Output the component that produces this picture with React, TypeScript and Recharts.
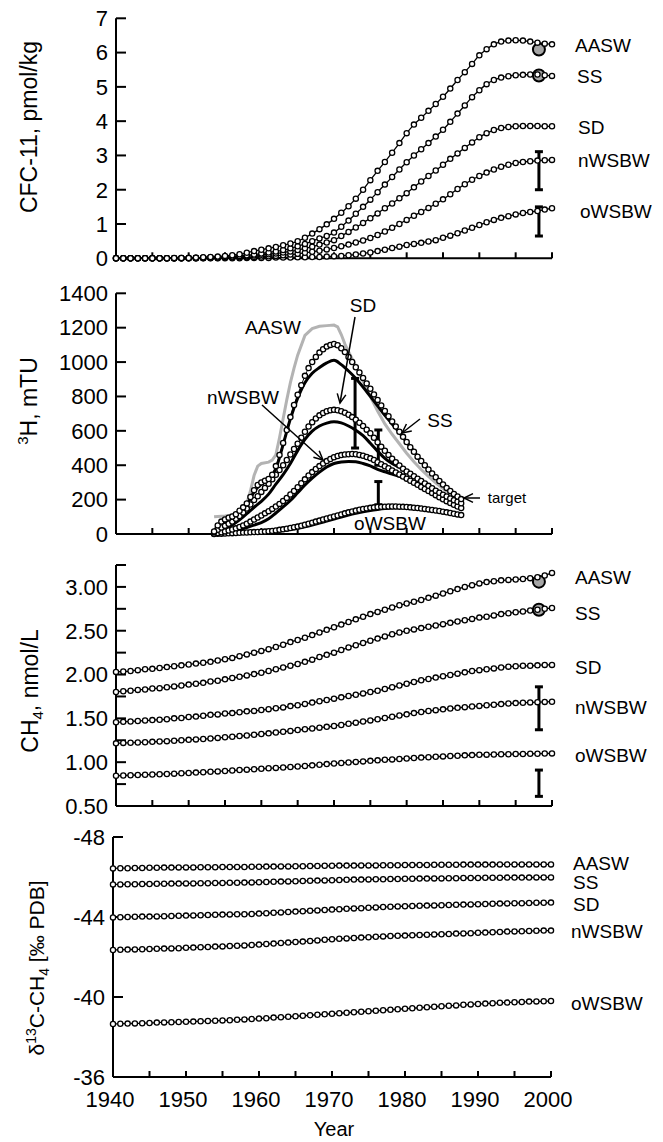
import React from "react";
import { ComposedChart, Line, Scatter, ErrorBar, XAxis, YAxis } from "recharts";

// ---- shared x grid ----
const years = [
  1940, 1941, 1942, 1943, 1944, 1945, 1946, 1947, 1948, 1949,
  1950, 1951, 1952, 1953, 1954, 1955, 1956, 1957, 1958, 1959,
  1960, 1961, 1962, 1963, 1964, 1965, 1966, 1967, 1968, 1969,
  1970, 1971, 1972, 1973, 1974, 1975, 1976, 1977, 1978, 1979,
  1980, 1981, 1982, 1983, 1984, 1985, 1986, 1987, 1988, 1989,
  1990, 1991, 1992, 1993, 1994, 1995, 1996, 1997, 1998, 1999,
  2000,
];
const xTicks = [1940, 1945, 1950, 1955, 1960, 1965, 1970, 1975, 1980, 1985, 1990, 1995, 2000];

// ---- CFC-11, pmol/kg ----
const cfcAASW = [
  0, 0, 0, 0, 0, 0, 0, 0,
  0.01, 0.01, 0.01, 0.02, 0.03, 0.04, 0.05, 0.07, 0.09, 0.12,
  0.16, 0.21, 0.25, 0.29, 0.33, 0.38, 0.43, 0.5, 0.6, 0.72,
  0.85, 0.99, 1.15, 1.33, 1.52, 1.74, 2.0, 2.28, 2.55, 2.81,
  3.08, 3.36, 3.65, 3.9, 4.1, 4.3, 4.5, 4.71, 4.95, 5.2,
  5.43, 5.67, 5.92, 6.1, 6.24, 6.32, 6.35, 6.36, 6.35, 6.32,
  6.29, 6.26, 6.24,
];
const cfcSS = [
  0, 0, 0, 0, 0, 0, 0, 0, 0,
  0.01, 0.01, 0.01, 0.02, 0.02, 0.03, 0.04, 0.05, 0.07,
  0.09, 0.11, 0.14, 0.17, 0.2, 0.24, 0.29, 0.35, 0.42, 0.5,
  0.58, 0.65, 0.75, 0.92, 1.1, 1.3, 1.5, 1.71, 1.93, 2.15,
  2.37, 2.59, 2.8, 3.0, 3.18, 3.36, 3.55, 3.75, 3.98, 4.22,
  4.46, 4.7, 4.9, 5.08, 5.2, 5.27, 5.31, 5.34, 5.35, 5.36,
  5.36, 5.34, 5.32,
];
const cfcSD = [
  0, 0, 0, 0, 0, 0, 0, 0, 0, 0,
  0.01, 0.01, 0.01, 0.02, 0.02, 0.03, 0.04, 0.05, 0.06, 0.08,
  0.1, 0.12, 0.14, 0.17, 0.2, 0.24, 0.29, 0.34, 0.4, 0.46,
  0.53, 0.65, 0.77, 0.9, 1.03, 1.17, 1.31, 1.46, 1.6, 1.75,
  1.9, 2.07, 2.24, 2.4, 2.56, 2.73, 2.9, 3.06, 3.22, 3.38,
  3.53, 3.65, 3.74, 3.8, 3.83, 3.85, 3.86, 3.86, 3.86, 3.85,
  3.85,
];
const cfcNW = [
  0, 0, 0, 0, 0, 0, 0, 0, 0, 0, 0, 0,
  0.01, 0.01, 0.01, 0.02, 0.02, 0.03, 0.03, 0.04, 0.05, 0.06,
  0.07, 0.09, 0.11, 0.13, 0.16, 0.19, 0.22, 0.26, 0.3, 0.35,
  0.4, 0.46, 0.52, 0.59, 0.68, 0.78, 0.89, 1.0, 1.12, 1.24,
  1.35, 1.47, 1.59, 1.72, 1.87, 2.02, 2.16, 2.29, 2.4, 2.5,
  2.59, 2.67, 2.73, 2.78, 2.81, 2.83, 2.85, 2.86, 2.87,
];
const cfcOW = [
  0, 0, 0, 0, 0, 0, 0, 0, 0, 0, 0, 0, 0, 0, 0, 0, 0, 0,
  0.01, 0.01, 0.01, 0.01, 0.02, 0.02, 0.02, 0.03, 0.03, 0.04,
  0.04, 0.05, 0.06, 0.07, 0.09, 0.11, 0.14, 0.17, 0.21, 0.25,
  0.3, 0.34, 0.39, 0.42, 0.45, 0.49, 0.53, 0.6, 0.66, 0.73,
  0.81, 0.89, 0.97, 1.05, 1.12, 1.18, 1.23, 1.28, 1.32, 1.35,
  1.38, 1.42, 1.46,
];
const cfcMarkX = [1998.2, 1998.2];
const cfcMarkY = [6.09, 5.33];
const cfcBarX = [1998.2, 1998.2];
const cfcBarLo = [2.0, 0.65];
const cfcBarHi = [3.11, 1.5];

// ---- 3H, mTU ----
const h3X = [
  1953.5, 1954, 1954.5, 1955, 1955.5, 1956, 1956.5, 1957, 1957.5, 1958,
  1958.5, 1959, 1959.5, 1960, 1960.5, 1961, 1961.5, 1962, 1962.5, 1963,
  1963.5, 1964, 1964.5, 1965, 1965.5, 1966, 1966.5, 1967, 1967.5, 1968,
  1968.5, 1969, 1969.5, 1970, 1970.5, 1971, 1971.5, 1972, 1972.5, 1973,
  1973.5, 1974, 1974.5, 1975, 1975.5, 1976, 1976.5, 1977, 1977.5, 1978,
  1978.5, 1979, 1979.5, 1980, 1980.5, 1981, 1981.5, 1982, 1982.5, 1983,
  1983.5, 1984, 1984.5, 1985, 1985.5, 1986, 1986.5, 1987, 1987.5,
];
const h3SS = [
  15, 50, 72, 85, 95, 102, 115, 135, 155, 178,
  215, 255, 285, 300, 310, 320, 345, 395, 460, 530,
  605, 680, 750, 810, 865, 920, 965, 1000, 1030, 1055,
  1075, 1090, 1100, 1105, 1098, 1080, 1058, 1030, 1000, 970,
  940, 908, 876, 845, 812, 780, 748, 716, 685, 655,
  625, 595, 565, 535, 505, 478, 450, 425, 400, 375,
  352, 330, 308, 288, 268, 250, 233, 218, 203,
];
const h3SD = [
  10, 25, 38, 48, 60, 72, 88, 105, 125, 148,
  172, 198, 220, 245, 268, 292, 318, 345, 372, 400,
  430, 462, 494, 525, 560, 595, 625, 650, 672, 690,
  704, 714, 720, 722, 720, 714, 705, 694, 680, 665,
  647, 628, 607, 586, 560, 534, 508, 484, 460, 438,
  417, 398, 380, 364, 350, 336, 322, 308, 294, 280,
  266, 252, 240, 229, 218, 207, 197, 188, 179,
];
const h3NW = [
  2, 6, 10, 15, 20, 26, 33, 41, 50, 60,
  72, 84, 96, 108, 120, 133, 146, 160, 175, 192,
  210, 230, 250, 272, 295, 318, 340, 360, 378, 395,
  410, 424, 436, 446, 454, 459, 462, 464, 465, 464,
  460, 455, 448, 440, 430, 418, 406, 394, 382, 370,
  358, 346, 334, 322, 310, 298, 286, 274, 262, 250,
  238, 226, 214, 202, 191, 180, 170, 160, 151,
];
const h3OW = [
  0, 1, 2, 3, 4, 5, 6, 7, 8, 9,
  10, 11, 12, 13, 14, 16, 18, 21, 24, 27,
  31, 35, 39, 43, 48, 54, 60, 66, 72, 78,
  84, 90, 96, 102, 108, 114, 120, 126, 131, 136,
  141, 145, 149, 152, 155, 157, 158, 159, 160, 160,
  160, 159, 158, 157, 155, 153, 151, 148, 146, 143,
  140, 137, 134, 130, 126, 122, 118, 114, 110,
];
// solid model lines
const h3LineX = [
  1953.5, 1954, 1955, 1956, 1957, 1958, 1959, 1960, 1961, 1962,
  1963, 1964, 1965, 1966, 1967, 1968, 1969, 1970, 1971, 1972,
  1973, 1974, 1975, 1976, 1977, 1978, 1979, 1980, 1981, 1982,
  1983, 1984, 1985, 1986, 1987, 1987.5,
];
const h3LineSS = [
  20, 45, 72, 95, 125, 170, 245, 290, 312, 380,
  520, 670, 790, 880, 935, 968, 995, 1010, 985, 948,
  905, 855, 800, 745, 690, 640, 590, 535, 480, 425,
  375, 330, 288, 250, 218, 203,
];
const h3LineSD = [
  5, 12, 30, 52, 82, 118, 155, 190, 232, 290,
  345, 410, 485, 550, 598, 628, 645, 653, 646, 628,
  604, 572, 528, 482, 440, 410, 388, 362, 336, 308,
  280, 252, 229, 207, 188, 179,
];
const h3LineNW = [
  0, 2, 7, 14, 25, 38, 52, 66, 88, 122,
  158, 195, 240, 285, 325, 360, 390, 410, 419, 422,
  420, 410, 396, 376, 362, 348, 335, 320, 298, 274,
  250, 226, 202, 180, 160, 151,
];
const h3LineOW = [
  0, 0, 1, 2, 3, 4, 6, 8, 11, 15,
  20, 26, 33, 42, 52, 63, 75, 87, 99, 110,
  120, 129, 137, 143, 148, 151, 152, 152, 150, 147,
  142, 136, 129, 121, 113, 108,
];
// AASW (grey)
const h3GreyX = [
  1953.5, 1954, 1955, 1956, 1957, 1958, 1958.5, 1959, 1959.5, 1960,
  1961, 1961.5, 1962, 1962.5, 1963, 1963.5, 1964, 1964.5, 1965, 1966,
  1967, 1968, 1969, 1970, 1970.5, 1971, 1971.5, 1972, 1973, 1974,
  1975, 1976, 1977, 1978, 1979, 1980, 1981, 1982, 1983, 1984,
  1985, 1986, 1987,
];
const h3Grey = [
  100, 102, 105, 110, 130, 178, 250, 340, 395, 410,
  418, 430, 460, 560, 670, 780, 880, 965, 1040, 1155,
  1195, 1208, 1212, 1215, 1205, 1160, 1105, 1060, 978, 890,
  800, 715, 640, 580, 525, 470, 420, 375, 335, 298,
  265, 235, 205,
];
const h3BarX = [1972.9, 1976.1, 1976.1];
const h3BarLo = [500, 400, 170];
const h3BarHi = [905, 605, 305];

// ---- CH4, nmol/L ----
const ch4AASW = [
  2.03, 2.035, 2.04, 2.05, 2.06, 2.065, 2.075, 2.085, 2.095, 2.105,
  2.115, 2.125, 2.135, 2.145, 2.16, 2.175, 2.19, 2.21, 2.23, 2.25,
  2.27, 2.29, 2.315, 2.34, 2.37, 2.395, 2.42, 2.45, 2.48, 2.51,
  2.54, 2.57, 2.6, 2.63, 2.66, 2.69, 2.715, 2.74, 2.765, 2.79,
  2.81, 2.83, 2.85, 2.875, 2.9, 2.925, 2.95, 2.975, 3.0, 3.02,
  3.04, 3.055, 3.065, 3.075, 3.08, 3.085, 3.09, 3.1, 3.11, 3.13,
  3.16,
];
const ch4SS = [
  1.8, 1.81, 1.815, 1.825, 1.83, 1.84, 1.845, 1.855, 1.865, 1.875,
  1.885, 1.895, 1.905, 1.92, 1.93, 1.945, 1.96, 1.975, 1.99, 2.005,
  2.02, 2.04, 2.06, 2.08, 2.1, 2.12, 2.145, 2.17, 2.2, 2.225,
  2.25, 2.28, 2.31, 2.335, 2.36, 2.385, 2.41, 2.435, 2.46, 2.48,
  2.5, 2.515, 2.53, 2.545, 2.56, 2.575, 2.59, 2.605, 2.62, 2.635,
  2.65, 2.66, 2.675, 2.69, 2.7, 2.71, 2.72, 2.73, 2.74, 2.75,
  2.76,
];
const ch4SD = [
  1.455, 1.46, 1.465, 1.47, 1.475, 1.48, 1.485, 1.49, 1.5, 1.505,
  1.515, 1.52, 1.53, 1.54, 1.545, 1.555, 1.56, 1.57, 1.58, 1.585,
  1.595, 1.605, 1.615, 1.625, 1.64, 1.65, 1.665, 1.68, 1.695, 1.71,
  1.725, 1.74, 1.755, 1.77, 1.785, 1.8, 1.815, 1.835, 1.855, 1.875,
  1.895, 1.915, 1.935, 1.95, 1.965, 1.98, 1.995, 2.01, 2.025, 2.04,
  2.05, 2.06, 2.07, 2.08, 2.09, 2.095, 2.1, 2.1, 2.105, 2.11,
  2.11,
];
const ch4NW = [
  1.215, 1.22, 1.222, 1.225, 1.228, 1.232, 1.236, 1.24, 1.245, 1.25,
  1.255, 1.26, 1.265, 1.27, 1.277, 1.284, 1.291, 1.298, 1.305, 1.313,
  1.321, 1.329, 1.338, 1.347, 1.357, 1.367, 1.376, 1.385, 1.394, 1.403,
  1.413, 1.425, 1.438, 1.451, 1.464, 1.477, 1.49, 1.504, 1.518, 1.532,
  1.546, 1.56, 1.573, 1.584, 1.594, 1.603, 1.612, 1.62, 1.628, 1.635,
  1.642, 1.649, 1.656, 1.663, 1.669, 1.674, 1.678, 1.682, 1.685, 1.688,
  1.69,
];
const ch4OW = [
  0.845, 0.848, 0.851, 0.854, 0.857, 0.86, 0.863, 0.866, 0.869, 0.873,
  0.877, 0.881, 0.885, 0.89, 0.895, 0.9, 0.905, 0.91, 0.915, 0.92,
  0.925, 0.93, 0.935, 0.94, 0.945, 0.95, 0.957, 0.964, 0.971, 0.978,
  0.985, 0.991, 0.997, 1.003, 1.009, 1.015, 1.021, 1.027, 1.032, 1.037,
  1.042, 1.047, 1.052, 1.057, 1.062, 1.066, 1.07, 1.074, 1.078, 1.081,
  1.084, 1.086, 1.088, 1.09, 1.091, 1.093, 1.094, 1.096, 1.097, 1.099,
  1.1,
];
const ch4MarkX = [1998.2, 1998.2];
const ch4MarkY = [3.06, 2.74];
const ch4BarX = [1998.2, 1998.2];
const ch4BarLo = [1.37, 0.61];
const ch4BarHi = [1.86, 0.91];

// ---- d13C-CH4, permil PDB ----
const d13AASW = [
  -46.43, -46.44, -46.44, -46.45, -46.45, -46.46, -46.46, -46.47, -46.47, -46.48,
  -46.48, -46.48, -46.49, -46.49, -46.49, -46.5, -46.5, -46.5, -46.5, -46.51,
  -46.51, -46.52, -46.52, -46.53, -46.53, -46.54, -46.54, -46.55, -46.55, -46.56,
  -46.56, -46.57, -46.57, -46.57, -46.58, -46.58, -46.58, -46.59, -46.59, -46.59,
  -46.6, -46.6, -46.6, -46.6, -46.61, -46.61, -46.61, -46.61, -46.62, -46.62,
  -46.62, -46.62, -46.62, -46.63, -46.63, -46.63, -46.63, -46.63, -46.63, -46.63,
  -46.63,
];
const d13SS = [
  -45.63, -45.63, -45.64, -45.64, -45.65, -45.65, -45.66, -45.66, -45.67, -45.67,
  -45.68, -45.68, -45.69, -45.69, -45.7, -45.7, -45.71, -45.71, -45.72, -45.73,
  -45.74, -45.75, -45.76, -45.77, -45.78, -45.79, -45.8, -45.81, -45.82, -45.83,
  -45.84, -45.85, -45.86, -45.87, -45.87, -45.88, -45.89, -45.89, -45.9, -45.9,
  -45.91, -45.91, -45.92, -45.92, -45.93, -45.93, -45.94, -45.94, -45.95, -45.95,
  -45.95, -45.96, -45.96, -45.96, -45.97, -45.97, -45.97, -45.97, -45.98, -45.98,
  -45.98,
];
const d13SD = [
  -43.98, -43.99, -44.0, -44.01, -44.02, -44.02, -44.03, -44.04, -44.05, -44.06,
  -44.07, -44.08, -44.09, -44.1, -44.11, -44.12, -44.13, -44.14, -44.14, -44.15,
  -44.17, -44.19, -44.21, -44.23, -44.25, -44.27, -44.29, -44.31, -44.33, -44.35,
  -44.37, -44.39, -44.41, -44.43, -44.44, -44.46, -44.48, -44.5, -44.51, -44.53,
  -44.54, -44.55, -44.56, -44.57, -44.58, -44.59, -44.6, -44.61, -44.62, -44.63,
  -44.64, -44.65, -44.66, -44.67, -44.68, -44.69, -44.69, -44.7, -44.71, -44.71,
  -44.72,
];
const d13NW = [
  -42.35, -42.36, -42.37, -42.38, -42.39, -42.4, -42.41, -42.42, -42.43, -42.44,
  -42.46, -42.47, -42.49, -42.5, -42.52, -42.53, -42.55, -42.56, -42.58, -42.6,
  -42.62, -42.65, -42.67, -42.7, -42.72, -42.75, -42.77, -42.8, -42.83, -42.86,
  -42.89, -42.91, -42.93, -42.95, -42.97, -42.99, -43.01, -43.03, -43.05, -43.06,
  -43.07, -43.09, -43.1, -43.11, -43.13, -43.14, -43.15, -43.17, -43.18, -43.19,
  -43.21, -43.22, -43.24, -43.25, -43.27, -43.28, -43.29, -43.3, -43.31, -43.32,
  -43.32,
];
const d13OW = [
  -38.65, -38.66, -38.67, -38.68, -38.69, -38.7, -38.72, -38.73, -38.74, -38.75,
  -38.76, -38.77, -38.79, -38.8, -38.81, -38.83, -38.84, -38.86, -38.88, -38.9,
  -38.92, -38.94, -38.97, -38.99, -39.01, -39.04, -39.06, -39.09, -39.11, -39.14,
  -39.16, -39.19, -39.21, -39.24, -39.26, -39.29, -39.31, -39.34, -39.36, -39.39,
  -39.41, -39.44, -39.46, -39.49, -39.51, -39.54, -39.56, -39.58, -39.61, -39.63,
  -39.65, -39.67, -39.69, -39.71, -39.72, -39.74, -39.75, -39.77, -39.78, -39.79,
  -39.8,
];

// ---- tick values ----
const cfcTicks = [0, 1, 2, 3, 4, 5, 6, 7];
const h3Ticks = [0, 200, 400, 600, 800, 1000, 1200, 1400];
const ch4Ticks = [0.5, 0.75, 1, 1.25, 1.5, 1.75, 2, 2.25, 2.5, 2.75, 3, 3.25];
const d13Ticks = [-48, -44, -40, -36];

const W = 663;
const H = 1142;
const FONT = '"Liberation Sans", Arial, Helvetica, sans-serif';
const AXIS = { stroke: "#000", strokeWidth: 2 };

const rows = (xs: number[], ys: number[]) => xs.map((x, i) => ({ x, y: ys[i] }));
const bars = (xs: number[], lo: number[], hi: number[]) =>
  xs.map((x, i) => ({ x, y: lo[i], err: [0, hi[i] - lo[i]] }));

type Frame = {
  top: number;
  height: number;
  plotTop: number;
  plotH: number;
  left: number;
  right: number;
  xAxisH: number;
};

const Y_W = 60;
const margins = (f: Frame) => ({
  top: f.plotTop - f.top,
  left: f.left - Y_W,
  right: W - f.right,
  bottom: f.top + f.height - f.plotTop - f.plotH - f.xAxisH,
});

function Panel({
  frame,
  yDomain,
  yTicks,
  yFormat,
  reversed,
  xFormat,
  children,
}: {
  frame: Frame;
  yDomain: [number, number];
  yTicks: number[];
  yFormat?: (v: number) => string;
  reversed?: boolean;
  xFormat: (v: number) => string;
  children: React.ReactNode;
}) {
  return (
    <div style={{ position: "absolute", left: 0, top: frame.top }}>
      <ComposedChart width={W} height={frame.height} margin={margins(frame)}>
        <XAxis
          type="number"
          dataKey="x"
          domain={[1940, 2000]}
          ticks={xTicks}
          interval={0}
          height={frame.xAxisH}
          axisLine={AXIS}
          tickLine={AXIS}
          tickSize={-6}
          tickMargin={20}
          tick={{ fill: "#000", fontSize: 22, fontFamily: FONT, dx: -3 }}
          tickFormatter={xFormat}
        />
        <YAxis
          type="number"
          domain={yDomain}
          ticks={yTicks}
          interval={0}
          width={Y_W}
          reversed={reversed}
          axisLine={AXIS}
          tickLine={AXIS}
          tickSize={-10}
          tickMargin={18}
          tick={{ fill: "#000", fontSize: 22, fontFamily: FONT }}
          tickFormatter={yFormat}
        />
        {children}
      </ComposedChart>
    </div>
  );
}

const noLabel = () => "";

function circles(key: string, xs: number[], ys: number[], r = 2.6, line = 1.3) {
  return (
    <Line
      key={key}
      data={rows(xs, ys)}
      dataKey="y"
      type="monotone"
      stroke="#000"
      strokeWidth={line}
      dot={{ r, fill: "#fff", stroke: "#000", strokeWidth: 1.3 }}
      activeDot={false}
      isAnimationActive={false}
    />
  );
}

function solid(key: string, xs: number[], ys: number[], color = "#000", type: "monotone" | "linear" = "monotone") {
  return (
    <Line
      key={key}
      data={rows(xs, ys)}
      dataKey="y"
      type={type}
      stroke={color}
      strokeWidth={3}
      dot={false}
      activeDot={false}
      isAnimationActive={false}
    />
  );
}

function greyMarks(xs: number[], ys: number[]) {
  return (
    <Scatter
      data={rows(xs, ys)}
      dataKey="y"
      isAnimationActive={false}
      shape={(p: any) => <circle cx={p.cx} cy={p.cy} r={6} fill="#a6a6a6" stroke="#000" strokeWidth={2} />}
    />
  );
}

function errorBars(xs: number[], lo: number[], hi: number[]) {
  return (
    <Scatter data={bars(xs, lo, hi)} dataKey="y" isAnimationActive={false} shape={() => <g />}>
      <ErrorBar dataKey="err" direction="y" width={4} stroke="#000" strokeWidth={3} />
    </Scatter>
  );
}

function Arrow({ x1, y1, x2, y2 }: { x1: number; y1: number; x2: number; y2: number }) {
  const a = Math.atan2(y2 - y1, x2 - x1);
  const L = 10;
  const s = 0.45;
  const p1 = `${x2 - L * Math.cos(a - s)},${y2 - L * Math.sin(a - s)}`;
  const p2 = `${x2 - L * Math.cos(a + s)},${y2 - L * Math.sin(a + s)}`;
  return (
    <g stroke="#000" strokeWidth={1.5} fill="none">
      <line x1={x1} y1={y1} x2={x2} y2={y2} />
      <polyline points={`${p1} ${x2},${y2} ${p2}`} />
    </g>
  );
}

const p1Labels: [string, number, number][] = [
  ["AASW", 575, 45], ["SS", 577, 76], ["SD", 578, 127], ["nWSBW", 578, 160], ["oWSBW", 580, 211],
];
const p3Labels: [string, number, number][] = [
  ["AASW", 575, 577], ["SS", 575, 613], ["SD", 575, 667], ["nWSBW", 575, 707], ["oWSBW", 575, 755],
];
const p4Labels: [string, number, number][] = [
  ["AASW", 573, 863], ["SS", 573, 882], ["SD", 573, 904], ["nWSBW", 571, 931], ["oWSBW", 571, 1003],
];

function Overlay() {
  const series = (list: [string, number, number][]) =>
    list.map(([t, x, y]) => (
      <text key={t + y} x={x} y={y + 7} fontSize={19}>
        {t}
      </text>
    ));
  return (
    <svg
      width={W}
      height={H}
      style={{ position: "absolute", left: 0, top: 0, pointerEvents: "none" }}
      fontFamily={FONT}
    >
      {/* axis titles */}
      <text transform="translate(37,127) rotate(-90)" textAnchor="middle" fontSize={23}>
        CFC-11, pmol/kg
      </text>
      <text transform="translate(37,401) rotate(-90)" textAnchor="middle" fontSize={23}>
        <tspan fontSize={15} dy={-9}>3</tspan>
        <tspan dy={9}>H, mTU</tspan>
      </text>
      <text transform="translate(38,691) rotate(-90)" textAnchor="middle" fontSize={23}>
        CH<tspan fontSize={15} dy={5}>4</tspan>
        <tspan dy={-5}>, nmol/L</tspan>
      </text>
      <text transform="translate(44,968) rotate(-90)" textAnchor="middle" fontSize={21}>
        δ<tspan fontSize={14} dy={-8}>13</tspan>
        <tspan dy={8}>C-CH</tspan>
        <tspan fontSize={14} dy={5}>4</tspan>
        <tspan dy={-5}> [‰ PDB]</tspan>
      </text>
      <text x={334} y={1136} textAnchor="middle" fontSize={20}>
        Year
      </text>

      {series(p1Labels)}
      {series(p3Labels)}
      {series(p4Labels)}

      {/* tritium annotations */}
      <g fontSize={19} textAnchor="middle">
        <text x={273} y={334}>AASW</text>
        <text x={363} y={312}>SD</text>
        <text x={243} y={404}>nWSBW</text>
        <text x={440} y={427}>SS</text>
        <text x={390} y={530}>oWSBW</text>
      </g>
      <text x={507} y={503} fontSize={15} textAnchor="middle">
        target
      </text>
      <Arrow x1={355} y1={317} x2={340} y2={403} />
      <Arrow x1={262} y1={405} x2={323} y2={460} />
      <Arrow x1={420} y1={419} x2={402} y2={433} />
      <Arrow x1={480} y1={498} x2={464} y2={498} />
    </svg>
  );
}

const f1: Frame = { top: 0, height: 278, plotTop: 18.3, plotH: 240, left: 116, right: 552, xAxisH: 8 };
const f2: Frame = { top: 272, height: 284, plotTop: 293.3, plotH: 240.7, left: 116, right: 552, xAxisH: 8 };
const f3: Frame = { top: 545, height: 284, plotTop: 565, plotH: 241, left: 116, right: 552, xAxisH: 8 };
const f4: Frame = { top: 815, height: 327, plotTop: 837, plotH: 240, left: 113, right: 551, xAxisH: 40 };

export default function App() {
  return (
    <div style={{ position: "relative", width: W, height: H, background: "#fff", fontFamily: FONT }}>
      <style>{"body{margin:0}"}</style>

      <Panel frame={f1} yDomain={[0, 7]} yTicks={cfcTicks} xFormat={noLabel}>
        {circles("cfc-o", years, cfcOW)}
        {circles("cfc-n", years, cfcNW)}
        {circles("cfc-sd", years, cfcSD)}
        {circles("cfc-ss", years, cfcSS)}
        {circles("cfc-a", years, cfcAASW)}
        {greyMarks(cfcMarkX, cfcMarkY)}
        {errorBars(cfcBarX, cfcBarLo, cfcBarHi)}
      </Panel>

      <Panel frame={f2} yDomain={[0, 1400]} yTicks={h3Ticks} xFormat={noLabel}>
        {solid("h3-grey", h3GreyX, h3Grey, "#b3b3b3", "linear")}
        {solid("h3-l-o", h3LineX, h3LineOW)}
        {solid("h3-l-n", h3LineX, h3LineNW)}
        {solid("h3-l-sd", h3LineX, h3LineSD)}
        {solid("h3-l-ss", h3LineX, h3LineSS)}
        {circles("h3-o", h3X, h3OW, 2.6, 1)}
        {circles("h3-n", h3X, h3NW, 2.6, 1)}
        {circles("h3-sd", h3X, h3SD, 2.6, 1)}
        {circles("h3-ss", h3X, h3SS, 2.6, 1)}
        {errorBars(h3BarX, h3BarLo, h3BarHi)}
      </Panel>

      <Panel
        frame={f3}
        yDomain={[0.5, 3.25]}
        yTicks={ch4Ticks}
        yFormat={(v) => (Math.round(v * 100) % 50 === 0 ? v.toFixed(2) : "")}
        xFormat={noLabel}
      >
        {circles("ch4-o", years, ch4OW)}
        {circles("ch4-n", years, ch4NW)}
        {circles("ch4-sd", years, ch4SD)}
        {circles("ch4-ss", years, ch4SS)}
        {circles("ch4-a", years, ch4AASW)}
        {greyMarks(ch4MarkX, ch4MarkY)}
        {errorBars(ch4BarX, ch4BarLo, ch4BarHi)}
      </Panel>

      <Panel
        frame={f4}
        yDomain={[-48, -36]}
        yTicks={d13Ticks}
        reversed
        xFormat={(v) => (v % 10 === 0 ? String(v) : "")}
      >
        {circles("d13-o", years, d13OW)}
        {circles("d13-n", years, d13NW)}
        {circles("d13-sd", years, d13SD)}
        {circles("d13-ss", years, d13SS)}
        {circles("d13-a", years, d13AASW)}
      </Panel>

      <Overlay />
    </div>
  );
}
